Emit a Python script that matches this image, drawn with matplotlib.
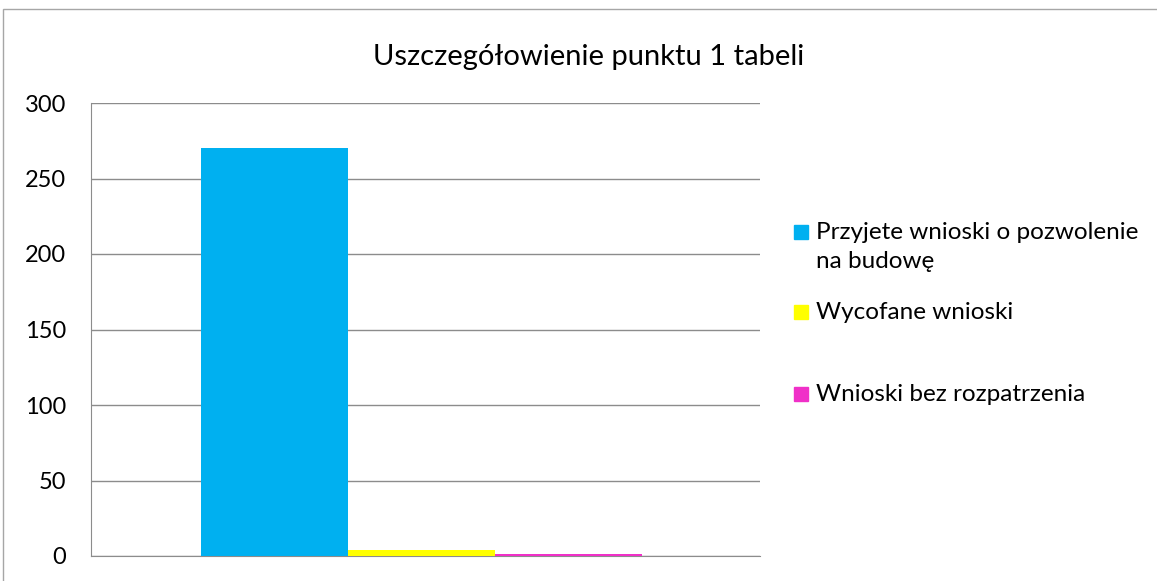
import numpy as np
import matplotlib.pyplot as plt
import matplotlib.patches as patches

plt.rcParams['font.family'] = ['Lato', 'DejaVu Sans']

title = "Uszczegółowienie punktu 1 tabeli"
series = ["Przyjete wnioski o pozwolenie\nna budowę", "Wycofane wnioski", "Wnioski bez rozpatrzenia"]
values = [270, 4, 1]
colors = ["#00B0F0", "#FFFF00", "#F030C8"]
yticks = [0, 50, 100, 150, 200, 250, 300]

fig = plt.figure(figsize=(11.57, 5.81), dpi=100)
ax = fig.add_axes([91 / 1157, 25 / 581, 669 / 1157, 453 / 581])

x = np.arange(len(values)) - 1
ax.bar(x, values, width=1.0, color=colors, zorder=3)
ax.set_xlim(-2.248, 2.303)
ax.set_ylim(0, 300)
ax.set_yticks(yticks)
ax.set_xticks([])
ax.grid(axis='y', color='#8c8c8c', linewidth=1, zorder=0)
for s in ['top', 'right']:
    ax.spines[s].set_visible(False)
ax.spines['left'].set_color('#8c8c8c')
ax.spines['bottom'].set_color('#8c8c8c')
ax.tick_params(axis='y', length=0, pad=18, labelsize=17)

fig.text(589 / 1157, 1 - 57 / 581, title, ha='center', va='center', fontsize=21)

# legend drawn by hand to get Excel-like spacing
leg_y = [232, 312, 394]
for lab, col, yy in zip(series, colors, leg_y):
    fig.patches.append(patches.Rectangle(((794) / 1157, 1 - (yy + 7) / 581), 14 / 1157, 14 / 581,
                                         transform=fig.transFigure, color=col))
    fig.text(816 / 1157, 1 - (yy - 10) / 581, lab, ha='left', va='top', fontsize=17.5, linespacing=1.45)

fig.patches.append(patches.Rectangle((3 / 1157, -0.01), 1.02, 1 - 9 / 581 + 0.01, transform=fig.transFigure,
                                     fill=False, edgecolor='#a6a6a6', linewidth=1))

fig.savefig("out.png", dpi=100)
